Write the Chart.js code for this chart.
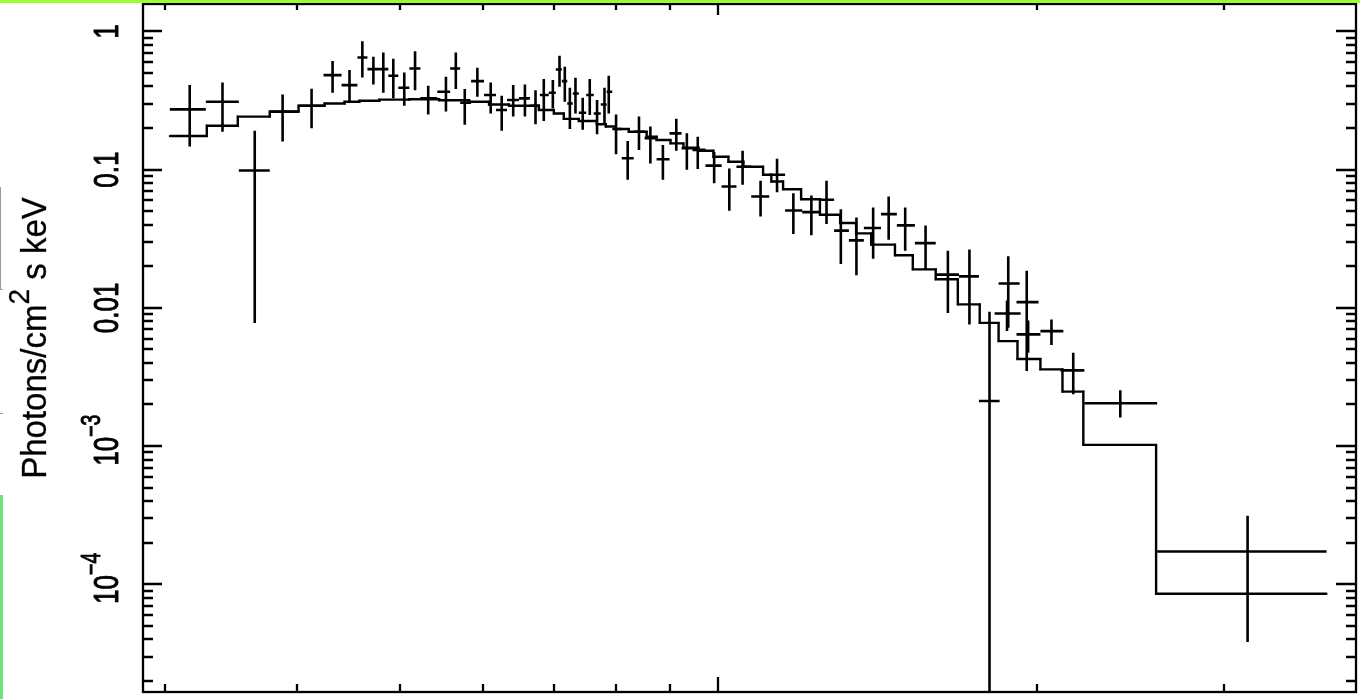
<!DOCTYPE html>
<html>
<head>
<meta charset="utf-8">
<title>Unfolded spectrum</title>
<script src="https://cdn.jsdelivr.net/npm/chart.js@4.4.1/dist/chart.umd.min.js"></script>
<style>
    html, body { margin: 0; padding: 0; background: #ffffff; }
    #wrap { position: relative; width: 1360px; height: 699px; overflow: hidden; }
    #topBar { position: absolute; left: 0; top: 0; width: 1360px; height: 3px; background: #99ff33; }
    #sideBar { position: absolute; left: 0; top: 495px; width: 3px; height: 204px; background: #6fe07c; }
    #grayMark { position: absolute; left: 0; top: 187px; width: 3px; height: 103px; box-sizing: border-box;
                border-left: 1px solid #9a9a9a; border-bottom: 1px solid #9a9a9a; }
    #grayTick { position: absolute; left: 0; top: 413px; width: 3px; height: 1px; background: #9a9a9a; }
</style>
</head>
<body>
<div id="wrap">
    <canvas id="spectrumChart"></canvas>
    <div id="topBar"></div>
    <div id="sideBar"></div>
    <div id="grayMark"></div>
    <div id="grayTick"></div>
</div>
<script>
// data bins (keV)
const binLo = [3.034, 3.281, 3.525, 3.770, 4.014, 4.238, 4.407, 4.562, 4.662, 4.775,
    4.879, 4.986, 5.107, 5.231, 5.427, 5.581, 5.703, 5.841, 6.007, 6.166,
    6.315, 6.481, 6.637, 6.783, 6.916, 7.022, 7.115, 7.199, 7.286, 7.382,
    7.502, 7.626, 7.743, 7.844, 7.939, 8.105, 8.318, 8.518, 8.743, 8.992,
    9.230, 9.452, 9.723, 10.07, 10.40, 10.74, 11.17, 11.56, 12.00, 12.45,
    12.86, 13.28, 13.72, 14.24, 14.74, 15.33, 16.04, 16.87, 17.62, 18.39,
    18.23, 19.12, 19.12, 20.14, 21.04, 22.16, 25.96];
const binHi = [3.281, 3.525, 3.770, 4.014, 4.238, 4.407, 4.562, 4.662, 4.775, 4.879,
    4.986, 5.107, 5.231, 5.427, 5.581, 5.703, 5.841, 6.007, 6.166, 6.315,
    6.481, 6.637, 6.783, 6.916, 7.022, 7.115, 7.199, 7.286, 7.382, 7.502,
    7.626, 7.743, 7.844, 7.939, 8.105, 8.318, 8.518, 8.743, 8.992, 9.230,
    9.452, 9.723, 10.07, 10.40, 10.74, 11.17, 11.56, 12.00, 12.45, 12.86,
    13.28, 13.72, 14.24, 14.74, 15.33, 16.04, 16.87, 17.62, 18.43, 19.25,
    19.29, 20.06, 20.14, 21.17, 22.16, 25.96, 37.52];
const binMid = [3.168, 3.402, 3.649, 3.877, 4.129, 4.322, 4.484, 4.611, 4.723, 4.826,
    4.932, 5.051, 5.171, 5.321, 5.530, 5.650, 5.761, 5.921, 6.095, 6.243,
    6.401, 6.566, 6.719, 6.841, 6.977, 7.079, 7.161, 7.240, 7.329, 7.445,
    7.560, 7.681, 7.806, 7.879, 8.005, 8.210, 8.414, 8.625, 8.863, 9.125,
    9.337, 9.561, 9.908, 10.24, 10.54, 10.96, 11.36, 11.77, 12.24, 12.65,
    13.05, 13.50, 14.00, 14.48, 15.01, 15.69, 16.47, 17.26, 18.03, 18.78,
    18.73, 19.55, 19.61, 20.63, 21.63, 23.96, 31.60];

// photons/cm2/s/keV with upper and lower error ends
const flux = [0.273, 0.310, 0.0985, 0.263, 0.290, 0.483, 0.409, 0.647, 0.534, 0.534,
    0.478, 0.391, 0.539, 0.328, 0.366, 0.539, 0.305, 0.437, 0.347, 0.270,
    0.319, 0.328, 0.290, 0.347, 0.360, 0.530, 0.437, 0.301, 0.356, 0.258,
    0.347, 0.255, 0.296, 0.366, 0.197, 0.121, 0.188, 0.169, 0.119, 0.183,
    0.143, 0.139, 0.107, 0.0755, 0.105, 0.0639, 0.0918, 0.0507, 0.0493, 0.0605,
    0.0362, 0.0308, 0.0378, 0.0477, 0.0395, 0.0294, 0.0174, 0.0169, 0.00212, 0.0150,
    0.00911, 0.0110, 0.00643, 0.00679, 0.00353, 0.00204, 0.000173];
const fluxUp = [0.409, 0.427, 0.191, 0.350, 0.385, 0.610, 0.525, 0.850, 0.655, 0.703,
    0.633, 0.504, 0.720, 0.404, 0.470, 0.703, 0.383, 0.545, 0.427, 0.343,
    0.409, 0.413, 0.376, 0.452, 0.445, 0.666, 0.555, 0.391, 0.462, 0.331,
    0.452, 0.319, 0.391, 0.478, 0.251, 0.161, 0.242, 0.205, 0.151, 0.233,
    0.183, 0.173, 0.134, 0.102, 0.137, 0.0830, 0.120, 0.0676, 0.0650, 0.0830,
    0.0518, 0.0451, 0.0533, 0.0639, 0.0533, 0.0395, 0.0259, 0.0264, 0.00936, 0.0236,
    0.0113, 0.0186, 0.00811, 0.00825, 0.00474, 0.00254, 0.000314];
const fluxDown = [0.147, 0.188, 0.00776, 0.160, 0.199, 0.360, 0.310, 0.464, 0.413, 0.360,
    0.328, 0.290, 0.376, 0.251, 0.263, 0.383, 0.211, 0.337, 0.255, 0.191,
    0.242, 0.242, 0.213, 0.225, 0.277, 0.398, 0.310, 0.197, 0.255, 0.194,
    0.249, 0.180, 0.213, 0.255, 0.129, 0.0844, 0.139, 0.111, 0.0844, 0.137,
    0.0997, 0.101, 0.0798, 0.0504, 0.0777, 0.0459, 0.0687, 0.0342, 0.0335, 0.0404,
    0.0208, 0.0172, 0.0227, 0.0311, 0.0259, 0.0189, 0.00920, 0.00759, 0.000001, 0.00717,
    0.00679, 0.00349, 0.00474, 0.00538, 0.00237, 0.00161, 0.0000383];

// folded model, one flat step per bin
const modelEdges = [3.034, 3.288, 3.517, 3.770, 4.014, 4.247, 4.436, 4.581, 4.785, 5.107,
    5.449, 5.816, 6.073, 6.343, 6.768, 6.992, 7.145, 7.382, 7.676, 7.828,
    7.998, 8.229, 8.555, 8.743, 9.011, 9.268, 9.576, 9.892, 10.22, 10.56,
    11.02, 11.22, 11.51, 11.97, 12.47, 13.03, 13.49, 13.94, 14.68, 15.26,
    16.04, 16.83, 17.65, 18.39, 19.16, 20.14, 21.13, 22.11, 25.90, 37.52];
const modelFlux = [0.175, 0.208, 0.242, 0.263, 0.290, 0.301, 0.310, 0.315, 0.321, 0.323,
    0.318, 0.310, 0.296, 0.290, 0.270, 0.255, 0.233, 0.225, 0.213, 0.205,
    0.197, 0.188, 0.173, 0.164, 0.155, 0.144, 0.137, 0.124, 0.114, 0.105,
    0.0918, 0.0821, 0.0722, 0.0611, 0.0472, 0.0411, 0.0346, 0.0287, 0.0240, 0.0190,
    0.0161, 0.0106, 0.00779, 0.00575, 0.00427, 0.00359, 0.00248, 0.00102, 0.0000855];

// axes
const xRange = [2.862, 40];
const yRange = [1.664e-5, 1.579];
const xTickValues = [3, 4, 5, 6, 7, 8, 9, 10, 20, 30];
const yTickValues = [1, 0.1, 0.01, 0.001, 0.0001];
const yTickLabels = ['1', '0.1', '0.01', '10^\u22123', '10^\u22124'];
const yAxisTitle = 'Photons/cm^2^ s keV';

const FONT = '"Liberation Sans", Arial, Helvetica, sans-serif';

// crosses: one horizontal and one vertical segment per bin, broken by null gaps
const crossPoints = [];
binMid.forEach((e, i) => {
    crossPoints.push({ x: binLo[i], y: flux[i] }, { x: binHi[i], y: flux[i] }, { x: binHi[i], y: null });
    crossPoints.push({ x: e, y: fluxUp[i] }, { x: e, y: fluxDown[i] }, { x: e, y: null });
});

const modelPoints = [];
modelFlux.forEach((m, i) => {
    modelPoints.push({ x: modelEdges[i], y: m }, { x: modelEdges[i + 1], y: m });
});

// text like "10^-3^" -> odd pieces are superscripts
const drawRotated = (ctx, label, baseX, midY, size, stretch, supScale, weight) => {
    const parts = label.split('^');
    const fontFor = (i) => `${i % 2 ? size * supScale : size}px ${FONT}`;
    let total = 0;
    parts.forEach((p, i) => {
        ctx.font = fontFor(i);
        total += ctx.measureText(p).width;
    });
    ctx.save();
    ctx.translate(baseX, midY);
    ctx.rotate(-Math.PI / 2);
    ctx.scale(1, stretch);
    ctx.fillStyle = '#000';
    ctx.strokeStyle = '#000';
    ctx.lineWidth = weight;
    ctx.textAlign = 'left';
    ctx.textBaseline = 'alphabetic';
    let pos = -total / 2;
    parts.forEach((p, i) => {
        ctx.font = fontFor(i);
        const dy = i % 2 ? -size * 0.5 : 0;
        ctx.fillText(p, pos, dy);
        if (weight > 0) ctx.strokeText(p, pos, dy);
        pos += ctx.measureText(p).width;
    });
    ctx.restore();
};

const framePlugin = {
    id: 'pgFrame',
    afterDraw: (chart) => {
        const { ctx, chartArea: area } = chart;
        const xs = chart.scales.x;
        const ys = chart.scales.y;
        ctx.save();
        ctx.strokeStyle = '#000';
        ctx.lineWidth = 2.3;
        ctx.strokeRect(area.left, area.top, area.right - area.left, area.bottom - area.top);

        ctx.beginPath();
        // y ticks on both sides, pointing in
        for (let exp = -5; exp <= 0; exp++) {
            for (let m = 1; m <= 9; m++) {
                const v = m * Math.pow(10, exp);
                if (v < ys.min || v > ys.max) continue;
                const py = Math.round(ys.getPixelForValue(v));
                ctx.moveTo(area.left, py);
                ctx.lineTo(area.left + (m === 1 ? 19 : 10), py);
                ctx.moveTo(area.right, py);
                ctx.lineTo(area.right - (m === 1 ? 20 : 10), py);
            }
        }
        // x ticks top and bottom
        xTickValues.forEach(v => {
            const px = Math.round(xs.getPixelForValue(v));
            const major = Number.isInteger(Math.log10(v));
            ctx.moveTo(px, area.bottom);
            ctx.lineTo(px, area.bottom - (major ? 15 : 8));
            ctx.moveTo(px, area.top);
            ctx.lineTo(px, area.top + (major ? 11 : 6));
        });
        ctx.stroke();
        ctx.restore();

        yTickValues.forEach((v, i) => {
            const py = ys.getPixelForValue(v);
            const shift = yTickLabels[i].includes('^') ? 6 : 0;
            drawRotated(ctx, yTickLabels[i], 118, py - shift, 26, 1.37, 0.75, 0.7);
        });
        drawRotated(ctx, yAxisTitle, 46, 338, 33, 1.05, 0.85, 0.3);
    }
};

const chart = new Chart(document.getElementById('spectrumChart'), {
    type: 'scatter',
    data: {
        datasets: [{
            label: 'data',
            data: crossPoints,
            showLine: true,
            spanGaps: false,
            borderColor: '#000000',
            borderWidth: 2.6,
            pointRadius: 0
        }, {
            label: 'model',
            data: modelPoints,
            showLine: true,
            borderColor: '#000000',
            borderWidth: 2.4,
            pointRadius: 1.3,
            pointStyle: 'rect',
            pointBorderWidth: 0,
            pointBackgroundColor: '#000000'
        }]
    },
    options: {
        responsive: true,
        maintainAspectRatio: false,
        animation: false,
        devicePixelRatio: 1,
        events: [],
        layout: { padding: { left: 143, top: 2, right: 2, bottom: 7 } },
        scales: {
            x: { type: 'logarithmic', min: xRange[0], max: xRange[1], display: false },
            y: { type: 'logarithmic', min: yRange[0], max: yRange[1], display: false }
        },
        plugins: {
            legend: { display: false },
            tooltip: { enabled: false }
        }
    },
    plugins: [framePlugin]
});
</script>
</body>
</html>
